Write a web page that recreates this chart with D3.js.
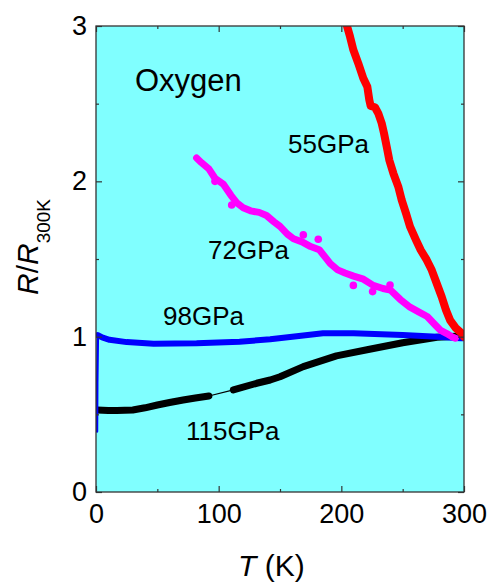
<!DOCTYPE html>
<html>
<head>
<meta charset="utf-8">
<script src="https://cdn.jsdelivr.net/npm/d3@7"></script>
<style>
  body { margin: 0; background: #fff; }
  text { font-family: "Liberation Sans", Arial, sans-serif; fill: #000; }
</style>
</head>
<body>
<div id="chart"></div>
<script>
// values: [T (K), R/R300K]
const red55 = [[203, 3.06], [204.4, 3.006], [207.1, 2.931], [209.8, 2.846], [213.8, 2.76], [217.9, 2.663],
  [221.2, 2.609], [222.8, 2.524], [223.9, 2.485], [227.4, 2.477], [230.1, 2.438], [232.9, 2.374],
  [234.8, 2.309], [237, 2.223], [239.1, 2.137], [242.4, 2.052], [246.4, 1.966], [249.2, 1.88],
  [252.7, 1.794], [256, 1.708], [260.9, 1.622], [264.7, 1.558], [269.6, 1.494], [273.7, 1.429],
  [277.7, 1.344], [281.8, 1.257], [285.3, 1.172], [288.6, 1.107], [293.5, 1.054], [298.1, 1.022], [300, 1.0]];

const magenta72 = [[82, 2.15], [86, 2.12], [92, 2.08], [97, 2.02], [104, 1.98], [110, 1.91], [115, 1.86],
  [120, 1.83], [126, 1.81], [133, 1.8], [139, 1.78], [145, 1.74], [150, 1.71], [156, 1.66], [161, 1.63],
  [168, 1.61], [175, 1.58], [182, 1.56], [187, 1.51], [191, 1.47], [197, 1.43], [203, 1.41], [210, 1.39],
  [218, 1.37], [226, 1.33], [234, 1.31], [240, 1.3], [248, 1.24], [256, 1.19], [263, 1.16], [270, 1.13],
  [276, 1.08], [281, 1.04], [286, 1.02], [290, 1.0], [293, 0.99]];
const magentaDots = [[97, 2.0], [110.6, 1.848], [169, 1.655], [181.2, 1.627], [209.8, 1.33], [225.5, 1.29], [239.7, 1.333]];

const blueDrop = [[0.8, 0.39], [1, 0.7], [1.5, 1.01]];
const blue98 = [[1.5, 1.01], [5, 0.995], [11, 0.98], [25, 0.965], [47, 0.955], [82, 0.957], [117, 0.968],
  [142, 0.983], [169, 1.008], [185, 1.022], [210, 1.022], [250, 1.011], [278, 1.0], [297, 0.99], [300, 0.99]];

const black115a = [[1, 0.528], [10, 0.525], [17, 0.524], [30, 0.528], [40, 0.542], [50, 0.56], [60, 0.576],
  [71, 0.592], [81, 0.605], [92, 0.618]];
const black115gap = [[92, 0.618], [112, 0.657]];
const black115b = [[112, 0.657], [131, 0.7], [142, 0.721], [150, 0.742], [169, 0.807], [196, 0.876],
  [223, 0.919], [250, 0.961], [278, 0.996], [297, 1.005], [300, 1.01]];

const xTicks = [0, 100, 200, 300];
const xMinor = [50, 150, 250];
const yTicks = [0, 1, 2, 3];
const yMinor = [0.5, 1.5, 2.5];

const labels = [
  {text: "Oxygen", x: 135, y: 91, size: 31},
  {text: "55GPa", x: 288, y: 153, size: 26},
  {text: "72GPa", x: 208, y: 259, size: 26},
  {text: "98GPa", x: 163, y: 325, size: 26},
  {text: "115GPa", x: 186, y: 440, size: 26}
];

const width = 491, height = 584;
const margin = ({top: 26, right: 27, bottom: 92, left: 96});

const x = d3.scaleLinear().domain([0, 300]).range([margin.left, width - margin.right]);
const y = d3.scaleLinear().domain([0, 3]).range([height - margin.bottom, margin.top]);

const svg = d3.select("#chart").append("svg")
  .attr("width", width)
  .attr("height", height);

svg.append("defs").append("clipPath").attr("id", "plot")
  .append("rect")
  .attr("x", x(0)).attr("y", y(3))
  .attr("width", x(300) - x(0)).attr("height", y(0) - y(3));

svg.append("rect")
  .attr("x", x(0)).attr("y", y(3))
  .attr("width", x(300) - x(0)).attr("height", y(0) - y(3))
  .attr("fill", "#80ffff");

const line = d3.line().x(d => x(d[0])).y(d => y(d[1]));
const g = svg.append("g").attr("clip-path", "url(#plot)");

function drawLine(data, colour, w) {
  g.append("path")
    .attr("d", line(data))
    .attr("fill", "none")
    .attr("stroke", colour)
    .attr("stroke-width", w)
    .attr("stroke-linejoin", "round")
    .attr("stroke-linecap", "round");
}

drawLine(black115a, "#000", 7);
drawLine(black115gap, "#000", 1.2);
drawLine(black115b, "#000", 7);
drawLine(blueDrop, "#0000ff", 2.5);
drawLine(blue98, "#0000ff", 6);
drawLine(magenta72, "#ff00ff", 7);
g.selectAll(".mdot").data(magentaDots).join("circle")
  .attr("cx", d => x(d[0])).attr("cy", d => y(d[1])).attr("r", 3.8)
  .attr("fill", "#ff00ff");
drawLine(red55, "#ff0000", 8);

// axes, ticks pointing inward on all four sides
function styleAxis(sel) {
  sel.select(".domain").remove();
  sel.selectAll(".tick line").attr("stroke", "#333").attr("stroke-width", 1.2);
  sel.selectAll(".tick text").attr("font-size", "27px").attr("font-family", null);
}

svg.append("g").attr("transform", `translate(0,${y(0)})`)
  .call(d3.axisBottom(x).tickValues(xTicks).tickSize(-6).tickPadding(12).tickFormat(d3.format("d")))
  .call(styleAxis);
svg.append("g").attr("transform", `translate(0,${y(0)})`)
  .call(d3.axisBottom(x).tickValues(xMinor).tickSize(-3).tickFormat(""))
  .call(styleAxis);
svg.append("g").attr("transform", `translate(0,${y(3)})`)
  .call(d3.axisTop(x).tickValues(xTicks).tickSize(-6).tickFormat(""))
  .call(styleAxis);
svg.append("g").attr("transform", `translate(0,${y(3)})`)
  .call(d3.axisTop(x).tickValues(xMinor).tickSize(-3).tickFormat(""))
  .call(styleAxis);

svg.append("g").attr("transform", `translate(${x(0)},0)`)
  .call(d3.axisLeft(y).tickValues(yTicks).tickSize(-6).tickPadding(9).tickFormat(d3.format("d")))
  .call(styleAxis);
svg.append("g").attr("transform", `translate(${x(0)},0)`)
  .call(d3.axisLeft(y).tickValues(yMinor).tickSize(-3).tickFormat(""))
  .call(styleAxis);
svg.append("g").attr("transform", `translate(${x(300)},0)`)
  .call(d3.axisRight(y).tickValues(yTicks).tickSize(-6).tickFormat(""))
  .call(styleAxis);
svg.append("g").attr("transform", `translate(${x(300)},0)`)
  .call(d3.axisRight(y).tickValues(yMinor).tickSize(-3).tickFormat(""))
  .call(styleAxis);

// frame
svg.append("rect")
  .attr("x", x(0)).attr("y", y(3))
  .attr("width", x(300) - x(0)).attr("height", y(0) - y(3))
  .attr("fill", "none")
  .attr("stroke", "#333")
  .attr("stroke-width", 1.3);

labels.forEach(d => {
  svg.append("text")
    .attr("x", d.x).attr("y", d.y)
    .attr("font-size", d.size + "px")
    .text(d.text);
});

// axis titles
const xt = svg.append("text")
  .attr("x", 238).attr("y", 576)
  .attr("font-size", "30px");
xt.append("tspan").attr("font-style", "italic").text("T");
xt.append("tspan").text(" (K)");

const yt = svg.append("text")
  .attr("transform", "translate(38,247) rotate(-90)")
  .attr("text-anchor", "middle")
  .attr("font-size", "30px");
yt.append("tspan").attr("font-style", "italic").text("R");
yt.append("tspan").text("/");
yt.append("tspan").attr("font-style", "italic").text("R");
yt.append("tspan").attr("font-size", "19px").attr("dy", 12).text("300K");
</script>
</body>
</html>
